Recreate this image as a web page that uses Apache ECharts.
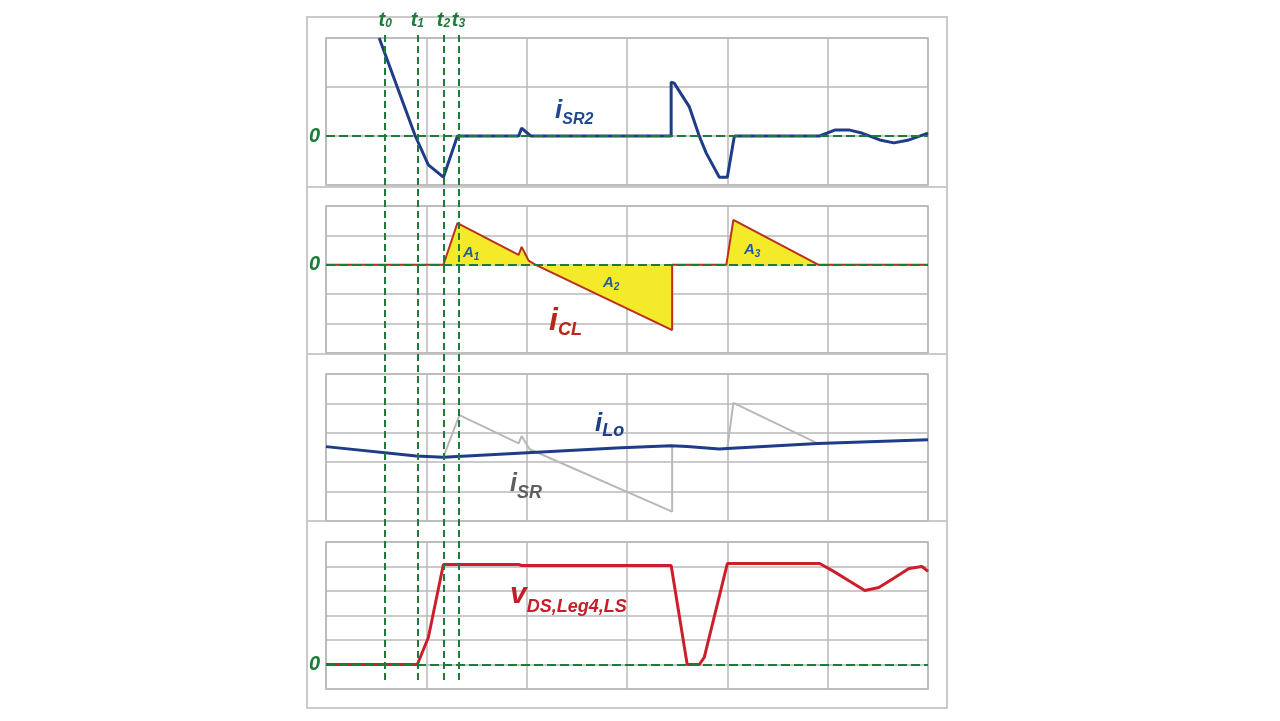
<!DOCTYPE html>
<html>
<head>
<meta charset="utf-8">
<script src="https://cdn.jsdelivr.net/npm/echarts/dist/echarts.min.js"></script>
<style>
  html, body { margin: 0; padding: 0; background: #fff; }
  #chart { width: 1280px; height: 721px; }
</style>
</head>
<body>
<div id="chart"></div>
<script>
// time axis: 6 divisions of 100 units
const tLines = [59, 91, 117, 132];
const tNames = ["0", "1", "2", "3"];

// panel 1: i_SR2
const isr2X = [53, 89, 102, 117, 131, 192, 195, 204, 344, 344, 347, 362, 372, 379, 392, 400, 407, 492, 507, 522, 534, 552, 566, 581, 600];
const isr2Y = [2.0, 0, -0.59, -0.84, 0, 0, 0.16, 0, 0, 1.1, 1.08, 0.6, 0, -0.35, -0.84, -0.84, 0, 0, 0.12, 0.12, 0.06, -0.08, -0.14, -0.08, 0.06];

// panel 2: i_CL
const iclX = [0, 117, 131, 192, 195, 202, 209, 345, 345, 399, 406, 491, 600];
const iclY = [0, 0, 1.42, 0.34, 0.61, 0.14, 0, -2.22, 0, 0, 1.53, 0, 0];

// panel 3: i_Lo and i_SR (null = gap)
const iloX = [0, 90, 117, 294, 344, 360, 392, 400, 490, 600];
const iloY = [2.53, 2.21, 2.17, 2.49, 2.56, 2.53, 2.45, 2.47, 2.64, 2.76];
const isrX = [117, 133, 192, 195, 203, 345, 345, null, 400, 406, 489];
const isrY = [2.17, 3.6, 2.64, 2.89, 2.44, 0.32, 2.53, null, 2.47, 4.02, 2.66];

// panel 4: v_DS,Leg4,LS
const vdsX = [0, 91, 102, 117, 192, 195, 344, 360, 372, 377, 400, 492, 506, 524, 537, 551, 567, 581, 594, 600];
const vdsY = [0, 0, 1.1, 4.08, 4.08, 4.04, 4.04, 0, 0, 0.29, 4.12, 4.12, 3.8, 3.35, 3.02, 3.14, 3.55, 3.92, 4.0, 3.8];

// y ranges of the four panels
const yMins = [-1, -3, 0, -1];
const yMaxs = [2, 2, 5, 5];

const FONT = "Liberation Sans, Arial, sans-serif";
const GREEN = "#1e7b3a";
const GRID = "#b8b8b8";

const pairs = (xs, ys) => xs.map((x, i) => (x == null ? ["-", "-"] : [x, ys[i]]));

let myChart = echarts.init(document.getElementById("chart"));

const panelTops = [38, 206, 374, 542];
const boxes = [
  [17, 170],
  [187, 167],
  [354, 167],
  [521, 187],
];

let grids = panelTops.map((top) => ({
  left: 326,
  top: top,
  width: 602,
  height: 147,
  show: true,
  borderColor: GRID,
  borderWidth: 1.5,
}));
// overlay for t0..t3
grids.push({ left: 326, top: 32, width: 602, height: 648 });
// panel frames
boxes.forEach((b) => {
  grids.push({
    left: 307,
    top: b[0],
    width: 640,
    height: b[1],
    show: true,
    borderColor: "#cacaca",
    borderWidth: 2,
  });
});

let xAxes = [];
let yAxes = [];
for (let i = 0; i < 5; i++) {
  xAxes.push({
    type: "value",
    gridIndex: i,
    min: 0,
    max: 600,
    interval: 100,
    show: i < 4,
    axisLine: { show: false },
    axisTick: { show: false },
    axisLabel: { show: false },
    splitLine: { show: true, lineStyle: { color: GRID, width: 1.5 } },
  });
  yAxes.push({
    type: "value",
    gridIndex: i,
    min: i < 4 ? yMins[i] : 0,
    max: i < 4 ? yMaxs[i] : 1,
    interval: 1,
    show: i < 4,
    axisLine: { show: false },
    axisTick: { show: false },
    axisLabel: {
      show: i !== 2,
      margin: 6,
      formatter: (v) => (v === 0 ? "0" : ""),
      color: GREEN,
      fontSize: 20,
      fontWeight: "bold",
      fontStyle: "italic",
      fontFamily: FONT,
    },
    splitLine: { show: true, lineStyle: { color: GRID, width: 1.5 } },
  });
}

const zeroLine = {
  silent: true,
  symbol: "none",
  label: { show: false },
  lineStyle: { color: GREEN, type: [9, 4], width: 2 },
  data: [{ yAxis: 0 }],
};

const lineSeries = (idx, data, color, width, extra) =>
  Object.assign(
    {
      type: "line",
      xAxisIndex: idx,
      yAxisIndex: idx,
      data: data,
      symbol: "none",
      silent: true,
      lineStyle: { color: color, width: width },
      z: 3,
    },
    extra || {}
  );

// label with subscript
function subLabel(main, sub, left, top, color, mSize, sSize, drop) {
  const base = { fontWeight: "bold", fontStyle: "italic", fontFamily: FONT, fill: color, verticalAlign: "bottom" };
  return {
    type: "text",
    left: left,
    top: top,
    silent: true,
    z: 20,
    style: {
      text: "{m|" + main + "}{s|" + sub + "}",
      rich: {
        m: Object.assign({}, base, { fontSize: mSize, padding: [0, 0, drop, 0] }),
        s: Object.assign({}, base, { fontSize: sSize }),
      },
    },
  };
}

let option = {
  animation: false,
  backgroundColor: "#fff",
  grid: grids,
  xAxis: xAxes,
  yAxis: yAxes,
  series: [
    lineSeries(0, pairs(isr2X, isr2Y), "#1e3c88", 3, { markLine: zeroLine }),
    lineSeries(1, pairs(iclX, iclY), "#b9301e", 2, {
      areaStyle: { color: "#f4ea2a", opacity: 1 },
      markLine: zeroLine,
    }),
    lineSeries(2, pairs(isrX, isrY), "#b8b8b8", 2, { z: 2, connectNulls: false }),
    lineSeries(2, pairs(iloX, iloY), "#1e3c88", 3),
    lineSeries(3, pairs(vdsX, vdsY), "#cc1f2b", 3, { markLine: zeroLine }),
    {
      type: "line",
      xAxisIndex: 4,
      yAxisIndex: 4,
      data: [],
      silent: true,
      markLine: {
        silent: true,
        symbol: "none",
        lineStyle: { color: GREEN, type: [7, 4], width: 2 },
        label: {
          show: true,
          position: "end",
          distance: 2,
          formatter: (p) => "{t|t}{s|" + p.name + "}",
          rich: {
            t: { fontSize: 20, fontWeight: "bold", fontStyle: "italic", fontFamily: FONT, color: GREEN, verticalAlign: "bottom" },
            s: { fontSize: 12, fontWeight: "bold", fontStyle: "italic", fontFamily: FONT, color: GREEN, verticalAlign: "bottom" },
          },
        },
        data: tLines.map((t, i) => ({ xAxis: t, name: tNames[i] })),
      },
    },
  ],
  graphic: [
    subLabel("i", "SR2", 555, 98, "#1f4a92", 26, 16, 4),
    subLabel("A", "1", 463, 245, "#2559a8", 15, 10, 2),
    subLabel("A", "2", 603, 275, "#2559a8", 15, 10, 2),
    subLabel("A", "3", 744, 242, "#2559a8", 15, 10, 2),
    subLabel("i", "CL", 549, 305, "#b8261a", 32, 18, 2),
    subLabel("i", "Lo", 595, 411, "#1a3f8a", 26, 18, 3),
    subLabel("i", "SR", 510, 472, "#5f5f5f", 25, 18, 5),
    subLabel("v", "DS,Leg4,LS", 510, 580, "#c41e2a", 30, 18, 6),
  ],
};

myChart.setOption(option);
</script>
</body>
</html>
